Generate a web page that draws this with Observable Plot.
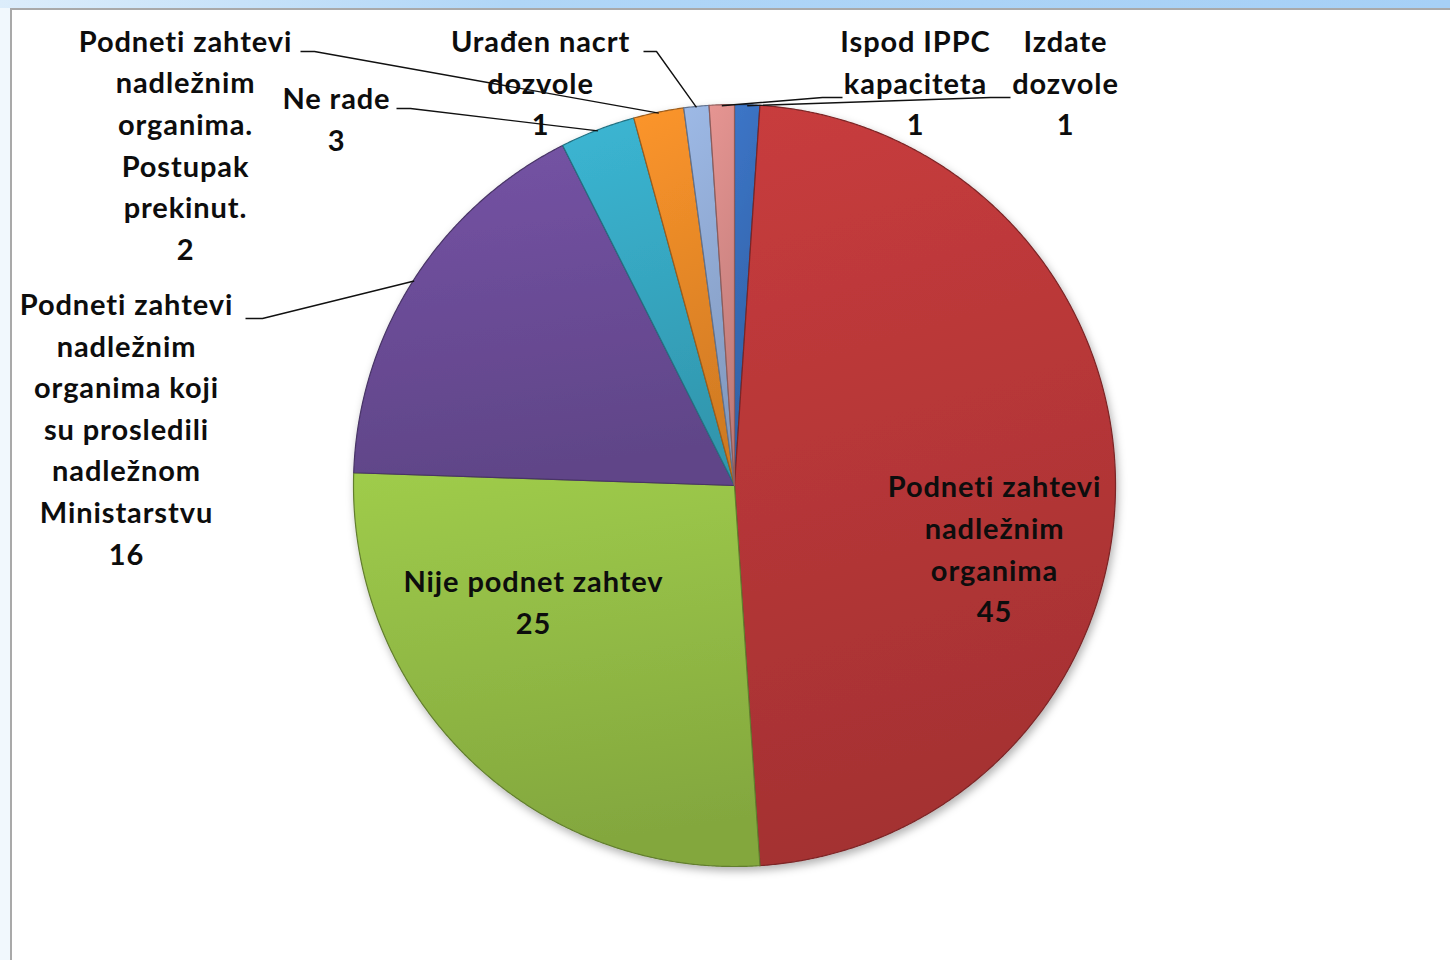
<!DOCTYPE html>
<html>
<head>
<meta charset="utf-8">
<script src="https://cdn.jsdelivr.net/npm/d3@7"></script>
<script src="https://cdn.jsdelivr.net/npm/@observablehq/plot@0.6"></script>
<style>
html, body { margin: 0; padding: 0; background: #ffffff; }
#wrap { position: relative; width: 1450px; height: 960px; overflow: hidden; background: #ffffff; }
.topbar { position: absolute; left: 0; top: 0; width: 1450px; height: 8px; background: linear-gradient(to right, #dcedfb, #b0d6f7 35%, #a6d0f6); }
.leftstrip { position: absolute; left: 0; top: 8px; width: 10px; height: 952px; background: #f1f8fd; }
.topline { position: absolute; left: 10px; top: 8px; width: 1440px; height: 2px; background: #a9a9a9; }
.leftline { position: absolute; left: 10px; top: 8px; width: 2px; height: 952px; background: #a9a9a9; }
#chart { position: absolute; left: 0; top: 0; }
</style>
</head>
<body>
<div id="wrap">
  <div class="topbar"></div>
  <div class="leftstrip"></div>
  <div class="topline"></div>
  <div class="leftline"></div>
  <div id="chart"></div>
</div>
<script>
// ---------- data ----------
const categories = [
  "Izdate dozvole",
  "Podneti zahtevi nadležnim organima",
  "Nije podnet zahtev",
  "Podneti zahtevi nadležnim organima koji su prosledili nadležnom Ministarstvu",
  "Ne rade",
  "Podneti zahtevi nadležnim organima. Postupak prekinut.",
  "Urađen nacrt dozvole",
  "Ispod IPPC kapaciteta"
];
const values = [1, 45, 25, 16, 3, 2, 1, 1];
const labelLines = [
  "Izdate\ndozvole",
  "Podneti zahtevi\nnadležnim\norganima",
  "Nije podnet zahtev",
  "Podneti zahtevi\nnadležnim\norganima koji\nsu prosledili\nnadležnom\nMinistarstvu",
  "Ne rade",
  "Podneti zahtevi\nnadležnim\norganima.\nPostupak\nprekinut.",
  "Urađen nacrt\ndozvole",
  "Ispod IPPC\nkapaciteta"
];

// ---------- styles / layout ----------
const sliceColors = ["#3b73c3", "#c43b3c", "#9cc84a", "#7352a2", "#3ab3cf", "#f8922a", "#9ab6e2", "#e2928f"];
const W = 1450, H = 960;
const cx = 734, cy = 485, R = 381;
// label block centres and leader start / bend points
const labelLayout = [
  {x: 1065, y: 80,  leader: [[1010, 97], [990, 97]]},
  {x: 994,  y: 546, leader: null},
  {x: 533,  y: 599, leader: null},
  {x: 126,  y: 426, leader: [[245, 318], [262, 318]]},
  {x: 336,  y: 116, leader: [[396, 108], [410, 108]]},
  {x: 185,  y: 142, leader: [[300, 51], [314, 51]]},
  {x: 540,  y: 80,  leader: [[643, 51], [656, 51]]},
  {x: 915,  y: 80,  leader: [[842, 97], [822, 97]]}
];

// ---------- pie geometry ----------
const arcs = d3.pie().sort(null).value(d => d)(values);
const pt = (a, r) => ({x: cx + r * Math.sin(a), y: cy - r * Math.cos(a)});
const slicePts = arcs.flatMap((a, i) => {
  const n = Math.max(6, Math.ceil((a.endAngle - a.startAngle) / 0.005));
  const pts = [{i, ...pt(0, 0)}];
  for (let k = 0; k <= n; k++) {
    const t = a.startAngle + (a.endAngle - a.startAngle) * k / n;
    pts.push({i, ...pt(t, R)});
  }
  pts.push({i, ...pt(0, 0)});
  return pts.map(p => ({...p, fill: `url(#grad${i})`, stroke: d3.color(sliceColors[i]).darker(1.3).formatHex()}));
});

const leaderPts = arcs.flatMap((a, i) => {
  const L = labelLayout[i].leader;
  if (!L) return [];
  const mid = (a.startAngle + a.endAngle) / 2;
  const end = pt(mid, R - 1);
  return [{i, x: L[0][0], y: L[0][1]}, {i, x: L[1][0], y: L[1][1]}, {i, ...end}];
});

const labels = categories.map((c, i) => ({
  i,
  x: labelLayout[i].x,
  y: labelLayout[i].y,
  text: `${labelLines[i]}\n${values[i]}`
}));

const plot = Plot.plot({
  width: W,
  height: H,
  margin: 0,
  style: {background: "transparent"},
  x: {domain: [0, W], range: [0, W], axis: null},
  y: {domain: [0, H], range: [0, H], axis: null},
  color: {type: "identity"},
  marks: [
    Plot.line(slicePts, {x: "x", y: "y", z: "i", fill: "fill", stroke: "stroke", strokeWidth: 1.2, ariaDescription: "pie"}),
    Plot.line(leaderPts, {x: "x", y: "y", z: "i", stroke: "#111", strokeWidth: 1.4, strokeLinecap: "butt"}),
    Plot.text(labels, {
      x: "x", y: "y", text: "text",
      fontSize: 29, fontWeight: 700, fontFamily: "Lato, 'Open Sans', sans-serif",
      lineHeight: 1.435, fill: "#0d0d0d", textAnchor: "middle", ariaDescription: "labels"
    })
  ]
});

// gradients + shadow
const svg = d3.select(plot);
const defs = svg.insert("defs", ":first-child");
sliceColors.forEach((c, i) => {
  const g = defs.append("linearGradient")
    .attr("id", `grad${i}`)
    .attr("x1", 0).attr("y1", 0).attr("x2", 0.15).attr("y2", 1);
  g.append("stop").attr("offset", "0%").attr("stop-color", d3.color(c).brighter(0.05).formatHex());
  g.append("stop").attr("offset", "100%").attr("stop-color", d3.color(c).darker(0.5).formatHex());
});
const f = defs.append("filter").attr("id", "shadow").attr("x", "-10%").attr("y", "-10%").attr("width", "120%").attr("height", "120%");
f.append("feDropShadow").attr("dx", 2).attr("dy", 4).attr("stdDeviation", 4).attr("flood-color", "#000").attr("flood-opacity", 0.3);
svg.select('g[aria-description="pie"]').attr("filter", "url(#shadow)");
svg.select('g[aria-description="labels"]').style("letter-spacing", "0.9px");

document.getElementById("chart").appendChild(plot);
</script>
</body>
</html>
